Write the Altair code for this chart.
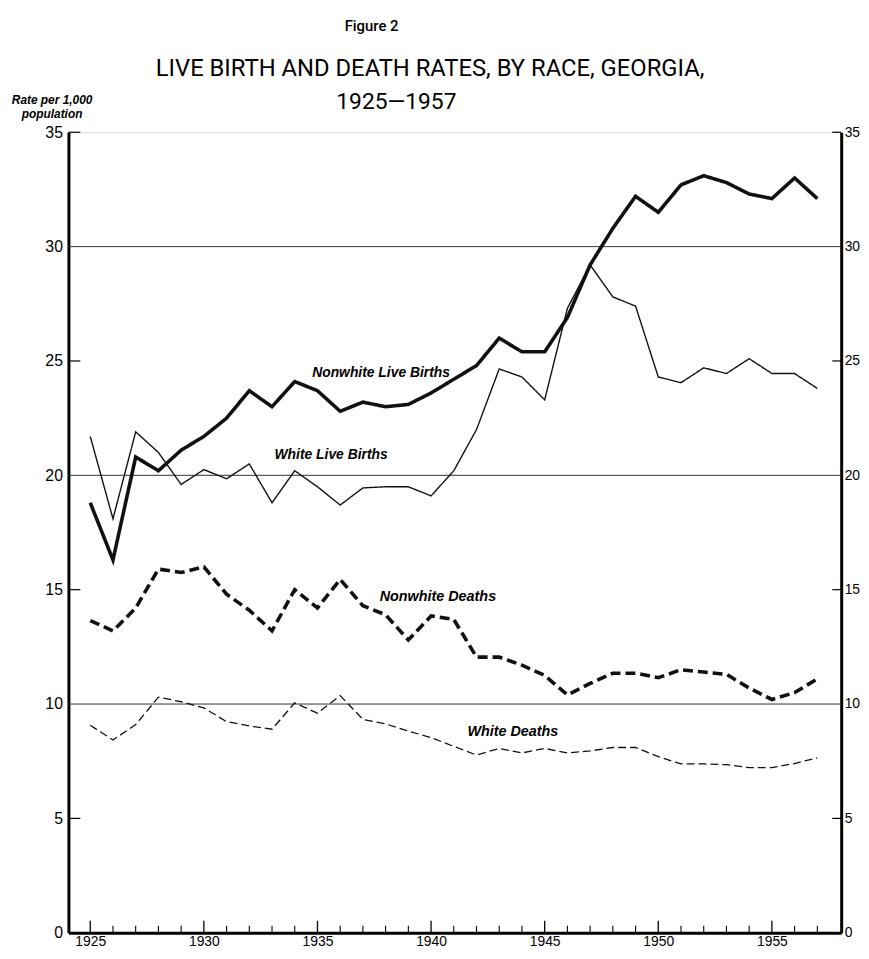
import altair as alt
import pandas as pd

years = list(range(1925, 1958))

nonwhite_births = [18.8, 16.3, 20.8, 20.2, 21.1, 21.7, 22.5, 23.7, 23.0, 24.1,
                   23.7, 22.8, 23.2, 23.0, 23.1, 23.6, 24.2, 24.8, 26.0, 25.4,
                   25.4, 26.9, 29.2, 30.8, 32.2, 31.5, 32.7, 33.1, 32.8, 32.3,
                   32.1, 33.0, 32.1]
white_births = [21.7, 18.1, 21.9, 21.0, 19.6, 20.25, 19.85, 20.5, 18.8, 20.2,
                19.5, 18.7, 19.45, 19.5, 19.5, 19.1, 20.2, 22.0, 24.65, 24.3,
                23.3, 27.3, 29.2, 27.8, 27.4, 24.3, 24.05, 24.7, 24.45, 25.1,
                24.45, 24.45, 23.8]
nonwhite_deaths = [13.65, 13.2, 14.2, 15.9, 15.75, 16.0, 14.8, 14.1, 13.2, 15.0,
                   14.2, 15.45, 14.3, 13.9, 12.8, 13.85, 13.7, 12.05, 12.05, 11.7,
                   11.25, 10.4, 10.9, 11.35, 11.35, 11.15, 11.5, 11.4, 11.3, 10.7,
                   10.2, 10.5, 11.1]
white_deaths = [9.07, 8.43, 9.1, 10.3, 10.1, 9.83, 9.23, 9.04, 8.9, 10.05,
                9.6, 10.37, 9.33, 9.13, 8.82, 8.53, 8.15, 7.77, 8.06, 7.86,
                8.06, 7.86, 7.95, 8.1, 8.1, 7.7, 7.38, 7.38, 7.35, 7.22,
                7.22, 7.4, 7.65]

series_names = ["Nonwhite Live Births", "White Live Births", "Nonwhite Deaths", "White Deaths"]
series_values = [nonwhite_births, white_births, nonwhite_deaths, white_deaths]

# annotation anchors (year, rate) for series labels
label_years = [1937.8, 1935.6, 1940.3, 1943.6]
label_rates = [24.47, 20.87, 14.68, 8.79]
label_sizes = [14, 14, 14.5, 14.5]

y_ticks = [0, 5, 10, 15, 20, 25, 30, 35]
grid_values = [10, 20, 30]
inner_tick_values = [5, 15, 25, 35]
major_years = [1925, 1930, 1935, 1940, 1945, 1950, 1955]
minor_years = [y for y in years if y not in major_years]

rows = []
for name, vals in zip(series_names, series_values):
    for yr, v in zip(years, vals):
        rows.append({"year": yr, "rate": v, "series": name})
df = pd.DataFrame(rows)

labels_df = pd.DataFrame({"year": label_years, "rate": label_rates,
                          "text": series_names, "size": label_sizes})
grid_df = pd.DataFrame({"v": grid_values})
itick_df = pd.DataFrame({"v": inner_tick_values})
major_df = pd.DataFrame({"year": major_years})
minor_df = pd.DataFrame({"year": minor_years})

W, H = 780, 808
xs = alt.Scale(domain=[1924.04, 1958.05], nice=False, zero=False)
ys = alt.Scale(domain=[0, 35], nice=False)

LF = "Liberation Sans"

x_axis = alt.Axis(values=major_years, format="d", ticks=False, tickSize=0, grid=False,
                  domainColor="black", domainWidth=3, labelFont=LF, labelFontSize=14,
                  labelColor="black", labelPadding=2, title=None)
left_axis = alt.Axis(values=y_ticks, ticks=False, tickSize=0, grid=False,
                     domainColor="black", domainWidth=3, labelFont=LF, labelFontSize=16,
                     labelColor="black", labelPadding=6,
                     title=["Rate per 1,000", "population"], titleAngle=0,
                     titleFont="Liberation Sans", titleFontSize=12, titleFontStyle="italic",
                     titleFontWeight="bold", titleAlign="center", titleBaseline="middle",
                     titleX=-17, titleY=-33, titleLineHeight=14, titleColor="black")
right_axis = alt.Axis(values=y_ticks, orient="right", ticks=False, tickSize=0, grid=False,
                      domainColor="black", domainWidth=3, labelFont=LF, labelFontSize=14,
                      labelColor="black", labelPadding=3, title=None)

lines = alt.Chart(df).mark_line(color="#111", strokeJoin="miter", strokeCap="butt").encode(
    x=alt.X("year:Q", scale=xs, axis=x_axis),
    y=alt.Y("rate:Q", scale=ys, axis=left_axis),
    detail="series:N",
    strokeWidth=alt.StrokeWidth("series:N", scale=alt.Scale(type="ordinal", domain=series_names,
                                range=[3.6, 1.4, 3.6, 1.3]), legend=None),
    strokeDash=alt.StrokeDash("series:N", scale=alt.Scale(domain=series_names,
                              range=[[1, 0], [1, 0], [10, 5], [8, 4]]), legend=None),
)

grid = alt.Chart(grid_df).mark_rule(color="#333", strokeWidth=1).encode(
    y=alt.Y("v:Q", scale=ys, axis=right_axis),
    x=alt.value(0), x2=alt.value(W),
)

left_ticks = alt.Chart(itick_df).mark_rule(color="black", strokeWidth=1.2).encode(
    y=alt.Y("v:Q", scale=ys, axis=None), x=alt.value(0), x2=alt.value(12))
right_ticks = alt.Chart(itick_df).mark_rule(color="black", strokeWidth=1.2).encode(
    y=alt.Y("v:Q", scale=ys, axis=None), x=alt.value(W - 9), x2=alt.value(W))
major_ticks = alt.Chart(major_df).mark_rule(color="black", strokeWidth=1.3).encode(
    x=alt.X("year:Q", scale=xs, axis=None), y=alt.value(H - 12), y2=alt.value(H))
minor_ticks = alt.Chart(minor_df).mark_rule(color="black", strokeWidth=1.1).encode(
    x=alt.X("year:Q", scale=xs, axis=None), y=alt.value(H - 7), y2=alt.value(H))

series_labels = alt.Chart(labels_df).mark_text(
    font="Liberation Sans", fontStyle="italic", fontWeight="bold",
    color="black", align="center", baseline="middle").encode(
    x=alt.X("year:Q", scale=xs, axis=None), y=alt.Y("rate:Q", scale=ys, axis=None),
    text="text:N", size=alt.Size("size:Q", scale=None, legend=None))

fig_text = alt.Chart(pd.DataFrame({"t": ["Figure 2"]})).mark_text(
    font="Roboto", fontSize=15, fontWeight=500, color="black", align="center", baseline="middle"
).encode(x=alt.value(306), y=alt.value(-107), text="t:N")
title1 = alt.Chart(pd.DataFrame({"t": ["LIVE BIRTH AND DEATH RATES, BY RACE, GEORGIA,"]})).mark_text(
    font="Roboto", fontSize=24, color="black", align="center", baseline="middle"
).encode(x=alt.value(365), y=alt.value(-64), text="t:N")
title2 = alt.Chart(pd.DataFrame({"t": ["1925\u20141957"]})).mark_text(
    font="Roboto", fontSize=23, color="black", align="center", baseline="middle"
).encode(x=alt.value(331), y=alt.value(-30), text="t:N")

chart = alt.layer(
    grid, lines, left_ticks, right_ticks, major_ticks, minor_ticks, series_labels,
    fig_text, title1, title2
).resolve_axis(x="independent", y="independent").properties(
    width=W, height=H,
    autosize=alt.AutoSizeParams(type="none"),
    padding={"left": 61, "top": 121, "right": 20, "bottom": 14},
).configure_view(stroke=None).configure(background="white")

chart.save("out.html", embed_options={"renderer": "svg", "actions": False})
